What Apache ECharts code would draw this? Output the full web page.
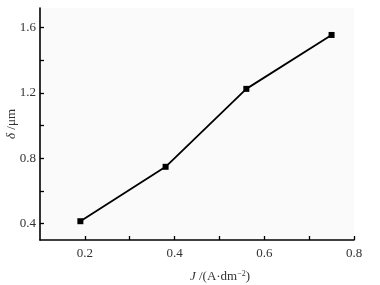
<!DOCTYPE html>
<html>
<head>
<meta charset="utf-8">
<script src="https://cdn.jsdelivr.net/npm/echarts@6/dist/echarts.min.js"></script>
<style>html,body{margin:0;padding:0;background:#fff;}#c{width:380px;height:285px;}</style>
</head>
<body>
<div id="c"></div>
<script>
const currentDensity = [0.19, 0.38, 0.56, 0.75];
const thickness = [0.415, 0.748, 1.225, 1.555];
const xTicks = [0.2, 0.3, 0.4, 0.5, 0.6, 0.7, 0.8];
const xLabels = [0.2, 0.4, 0.6, 0.8];
const yTicks = [0.4, 0.6, 0.8, 1.0, 1.2, 1.4, 1.6];
const yLabels = [0.4, 0.8, 1.2, 1.6];

const font = 'Liberation Serif';
const chart = echarts.init(document.getElementById('c'), null, {renderer: 'canvas'});
chart.setOption({
  animation: false,
  grid: {left: 40, right: 26, top: 8, bottom: 45, containLabel: false, outerBoundsMode: 'none',
    show: true, backgroundColor: '#fafafa', borderWidth: 0},
  xAxis: {
    type: 'value', min: 0.1, max: 0.8,
    axisLine: {lineStyle: {color: '#000', width: 1.6}},
    axisTick: {inside: true, length: 4, lineStyle: {color: '#000', width: 1.3}, customValues: xTicks},
    axisLabel: {customValues: xLabels, color: '#333', fontFamily: font, fontSize: 13, margin: 7,
      formatter: v => v.toFixed(1)},
    splitLine: {show: false},
    name: '{i|J} /(A·dm{s|−2})',
    nameLocation: 'middle', nameGap: 30, nameMoveOverlap: false,
    nameTextStyle: {color: '#333', fontFamily: font, fontSize: 13, padding: [0, 0, 0, 46],
      rich: {i: {fontStyle: 'italic', fontFamily: font, fontSize: 13, color: '#333'},
             s: {fontFamily: font, fontSize: 8, color: '#333', verticalAlign: 'top', padding: [0, 0, 6, 0]}}}
  },
  yAxis: {
    type: 'value', min: 0.3, max: 1.72,
    axisLine: {lineStyle: {color: '#000', width: 1.6}},
    axisTick: {inside: true, length: 4, lineStyle: {color: '#000', width: 1.3}, customValues: yTicks},
    axisLabel: {customValues: yLabels, color: '#333', fontFamily: font, fontSize: 13, margin: 4,
      formatter: v => v.toFixed(1)},
    splitLine: {show: false},
    name: '{i|δ} /μm',
    nameLocation: 'middle', nameGap: 22, nameRotate: 90, nameMoveOverlap: false,
    nameTextStyle: {color: '#333', fontFamily: font, fontSize: 13,
      rich: {i: {fontStyle: 'italic', fontFamily: font, fontSize: 13, color: '#333'}}}
  },
  series: [{
    type: 'line',
    data: currentDensity.map((x, i) => [x, thickness[i]]),
    symbol: 'rect', symbolSize: 6,
    lineStyle: {color: '#000', width: 1.8},
    itemStyle: {color: '#000'}
  }]
});
</script>
</body>
</html>
